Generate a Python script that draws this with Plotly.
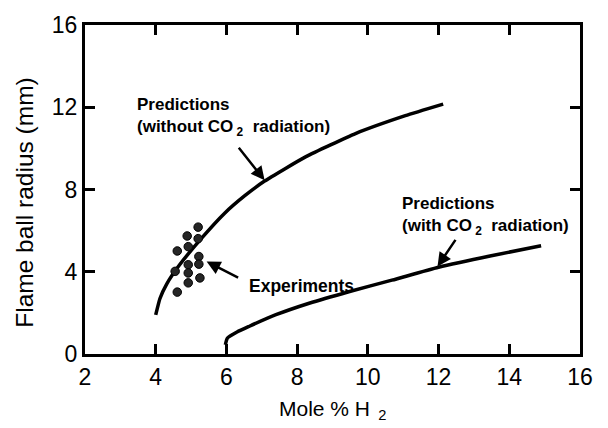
import plotly.graph_objects as go

# Data
no_rad_x = [4.00, 4.12, 4.31, 4.66, 5.28, 5.95, 6.52, 7.08, 8.25, 9.65, 11.06, 12.13]
no_rad_y = [1.90, 2.70, 3.40, 4.30, 5.60, 6.85, 7.70, 8.41, 9.60, 10.72, 11.59, 12.15]

rad_x = [5.97, 6.03, 6.30, 6.65, 7.40, 8.34, 9.46, 10.68, 12.00, 13.49, 14.90]
rad_y = [0.45, 0.78, 1.07, 1.35, 1.91, 2.47, 3.03, 3.59, 4.22, 4.78, 5.26]

exp_x = [5.20, 4.89, 4.61, 5.20, 4.92, 5.22, 5.22, 4.92, 4.92, 4.92, 5.25, 4.61, 4.55]
exp_y = [6.17, 5.74, 5.01, 5.61, 5.22, 4.74, 4.37, 4.34, 3.94, 3.46, 3.70, 3.01, 4.02]

x_ticks = [2, 4, 6, 8, 10, 12, 14, 16]
y_ticks = [0, 4, 8, 12, 16]

FONT = "Liberation Sans, Arial, Helvetica, sans-serif"
NB = "\u00a0"

fig = go.Figure()
fig.add_trace(go.Scatter(x=no_rad_x, y=no_rad_y, mode="lines",
                         line=dict(color="black", width=3.5, shape="spline", smoothing=0.45),
                         showlegend=False))
fig.add_trace(go.Scatter(x=rad_x, y=rad_y, mode="lines",
                         line=dict(color="black", width=3.5, shape="spline", smoothing=0.6),
                         showlegend=False))
fig.add_trace(go.Scatter(x=exp_x, y=exp_y, mode="markers",
                         marker=dict(color="#262626", size=8.5,
                                     line=dict(color="black", width=1)),
                         showlegend=False))

ann_font = dict(family=FONT, size=17, color="black")
annotations = [
    dict(x=3.40, y=12.70, xref="x", yref="y", xanchor="left", yanchor="top",
         align="left", showarrow=False, font=ann_font,
         text=f"<b>Predictions<br>(without CO<sub>{NB}2</sub>{NB}{NB}radiation)</b>"),
    dict(x=10.90, y=7.90, xref="x", yref="y", xanchor="left", yanchor="top",
         align="left", showarrow=False, font=ann_font,
         text=f"<b>Predictions<br>(with CO<sub>{NB}2</sub>{NB}{NB}radiation)</b>"),
    dict(x=6.58, y=3.3, xref="x", yref="y", xanchor="left", yanchor="middle",
         showarrow=False, font=dict(family=FONT, size=17.5, color="black"),
         text="<b>Experiments</b>"),
    # arrows
    dict(x=7.08, y=8.45, xref="x", yref="y", text="", showarrow=True,
         ax=-27, ay=-34, arrowhead=2, arrowsize=1.1, arrowwidth=2.5, arrowcolor="black"),
    dict(x=5.44, y=4.5, xref="x", yref="y", text="", showarrow=True,
         ax=33, ay=17, arrowhead=2, arrowsize=1.1, arrowwidth=2.5, arrowcolor="black"),
    dict(x=11.97, y=4.26, xref="x", yref="y", text="", showarrow=True,
         ax=19, ay=-28, arrowhead=2, arrowsize=1.1, arrowwidth=2.5, arrowcolor="black"),
    # axis titles
    dict(x=-0.121, y=0.46, xref="paper", yref="paper", xanchor="center", yanchor="middle",
         textangle=-90, showarrow=False, font=dict(family=FONT, size=24.5, color="black"),
         text="Flame ball radius (mm)"),
    dict(x=0.50, y=-0.17, xref="paper", yref="paper", xanchor="center", yanchor="middle",
         showarrow=False, font=dict(family=FONT, size=21, color="black"),
         text=f"Mole % H<sub>{NB}{NB}2</sub>"),
]

axis_common = dict(showgrid=False, zeroline=False, showline=True, linecolor="black",
                   linewidth=3, ticks="inside", ticklen=10, tickwidth=3, tickcolor="black",
                   mirror="ticks", tickfont=dict(family=FONT, size=23, color="black"))

fig.update_layout(
    width=608, height=428,
    margin=dict(l=85, r=28, t=21, b=74),
    paper_bgcolor="white", plot_bgcolor="white",
    xaxis=dict(range=[2, 16], tickvals=x_ticks, ticktext=[str(v) for v in x_ticks],
               **axis_common),
    yaxis=dict(range=[0, 16], tickvals=y_ticks, ticktext=[str(v) for v in y_ticks],
               **axis_common),
    annotations=annotations,
)

fig.write_html("out.html")
